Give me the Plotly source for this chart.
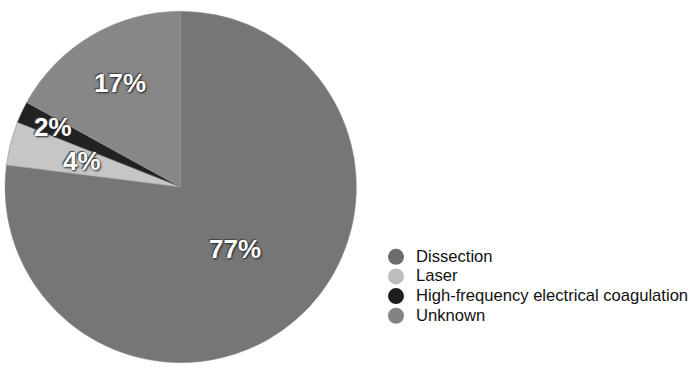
import math
import plotly.graph_objects as go

categories = ["Dissection", "Laser", "High-frequency electrical coagulation", "Unknown"]
values = [77, 4, 2, 17]
colors = ["#767676", "#c6c6c6", "#222222", "#878787"]
legend_colors = ["#6c6c6c", "#bdbdbd", "#1e1e1e", "#838383"]
label_radius = [0.47, 0.58, 0.8, 0.68]

W, H = 694, 370
cx_px, cy_px, R_px = 182, 187, 177

fig = go.Figure()
fig.add_trace(go.Pie(
    labels=categories, values=values, sort=False, direction="clockwise", rotation=0,
    marker=dict(colors=colors, line=dict(color="#8e8e8e", width=0.5)),
    textinfo="none", hoverinfo="label+percent", showlegend=False,
    domain=dict(x=[(cx_px - R_px) / W, (cx_px + R_px) / W],
                y=[1 - (cy_px + R_px) / H, 1 - (cy_px - R_px) / H]),
))

for name, col in zip(categories, legend_colors):
    fig.add_trace(go.Scatter(x=[None], y=[None], mode="markers",
                             name=f'<span style="font-size:16.6px">{name}</span>',
                             marker=dict(symbol="circle", size=16, color=col)))

total = sum(values)
cum = 0
for v, rf in zip(values, label_radius):
    mid = (cum + v / 2) / total * 2 * math.pi
    cum += v
    px = cx_px + math.sin(mid) * R_px * rf
    py = cy_px - math.cos(mid) * R_px * rf
    fig.add_annotation(x=px / W, y=1 - py / H, xref="paper", yref="paper",
                       xanchor="center", yanchor="middle",
                       text=f"{round(v / total * 100)}%", showarrow=False,
                       font=dict(family="Liberation Sans, Arial, sans-serif", size=26,
                                 color="white", weight="bold",
                                 shadow="1px 1px 2px #222, -1px -1px 1px #444"))

fig.update_layout(
    width=W, height=H, margin=dict(l=0, r=0, t=0, b=0),
    paper_bgcolor="white", plot_bgcolor="white",
    xaxis=dict(visible=False), yaxis=dict(visible=False),
    legend=dict(x=379 / W, y=1 - 242 / H, xanchor="left", yanchor="top",
                font=dict(family="Liberation Sans, Arial, sans-serif", size=12.8, color="#111"),
                itemclick=False, tracegroupgap=0),
)
fig.write_html("out.html")
